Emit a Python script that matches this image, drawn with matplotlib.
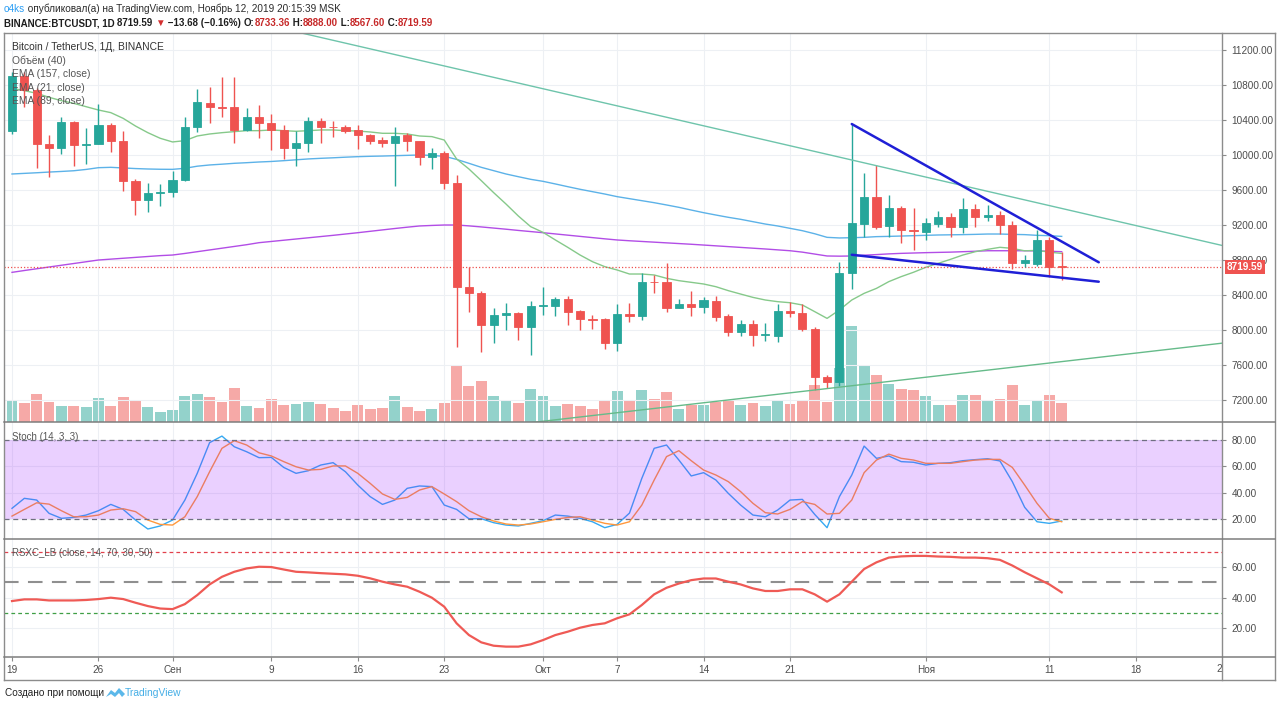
import numpy as np
import pandas as pd
import matplotlib
matplotlib.use("Agg")
import matplotlib.pyplot as plt
import matplotlib.dates as mdates
import matplotlib.transforms as mtransforms
from matplotlib.lines import Line2D
from matplotlib.patches import Polygon

FONT = ['Liberation Sans', 'DejaVu Sans']
plt.rcParams['font.family'] = FONT

# ---------------- data ----------------
start_date = "2019-08-19"
opens = [10274, 10903, 10740, 10122, 10077, 10374, 10114, 10130, 10345, 10160,
         9707, 9486, 9562, 9578, 9714, 10324, 10595, 10545, 10545, 10286,
         10438, 10369, 10286, 10077, 10141, 10392, 10324, 10318, 10286, 10229,
         10171, 10141, 10225, 10156, 9973, 10019, 9684, 8488, 8427, 8057,
         8171, 8190, 8038, 8278, 8278, 8354, 8221, 8122, 8122, 7848,
         8183, 8160, 8553, 8553, 8255, 8293, 8259, 8335, 8160, 7981,
         8069, 7940, 7935, 8221, 8191, 8011, 7459, 7410, 8648, 9211,
         9517, 9189, 9398, 9143, 9124, 9211, 9288, 9174, 9379, 9295,
         9318, 9200, 8769, 8754, 9029, 8733.36]
highs = [10950, 10950, 10770, 10229, 10431, 10392, 10312, 10579, 10360, 10278,
         9720, 9684, 9668, 9817, 10431, 10751, 10781, 10888, 10895, 10533,
         10571, 10469, 10345, 10278, 10431, 10420, 10392, 10340, 10343, 10240,
         10202, 10320, 10250, 10165, 10077, 10040, 9771, 8724, 8450, 8255,
         8305, 8210, 8330, 8495, 8380, 8390, 8230, 8170, 8140, 8297,
         8312, 8655, 8631, 8762, 8354, 8446, 8380, 8390, 8183, 8120,
         8110, 8080, 8297, 8324, 8300, 8040, 7490, 8781, 10354, 9791,
         9886, 9543, 9420, 9398, 9276, 9364, 9341, 9505, 9440, 9430,
         9360, 9250, 8857, 9143, 9060, 8888.00]
lows = [10240, 10552, 9850, 9752, 10011, 9874, 9897, 10122, 10038, 9593,
        9314, 9352, 9417, 9517, 9700, 10267, 10362, 10438, 10141, 10278,
        10191, 10057, 9951, 9874, 10038, 10141, 10210, 10250, 10065, 10126,
        10095, 9646, 10046, 9886, 9836, 9608, 7802, 8210, 7752, 7855,
        8000, 7886, 7714, 8171, 8160, 8057, 8000, 8010, 7779, 7766,
        8088, 8120, 8419, 8210, 8250, 8160, 8200, 8100, 7930, 7935,
        7817, 7880, 7867, 8150, 7990, 7314, 7333, 7360, 8465, 9067,
        9150, 9059, 8998, 8914, 9029, 9181, 9059, 9110, 9174, 9250,
        9097, 8693, 8720, 8730, 8610, 8567.60]
closes = [10903, 10740, 10122, 10077, 10374, 10114, 10130, 10345, 10160, 9707,
          9486, 9562, 9578, 9714, 10324, 10602, 10545, 10540, 10286, 10438,
          10369, 10286, 10077, 10141, 10392, 10324, 10318, 10278, 10229, 10164,
          10141, 10217, 10156, 9973, 10019, 9676, 8488, 8427, 8057, 8171,
          8199, 8038, 8278, 8285, 8354, 8210, 8122, 8118, 7848, 8183,
          8160, 8553, 8550, 8255, 8293, 8259, 8343, 8153, 7981, 8069,
          7940, 7950, 8217, 8191, 8008, 7459, 7410, 8648, 9219, 9517,
          9181, 9398, 9143, 9136, 9219, 9288, 9174, 9379, 9295, 9318,
          9204, 8769, 8800, 9029, 8717, 8719.59]
volumes_k = [27.7, 23.5, 34.9, 25.2, 20.2, 20.2, 18.9, 29.8, 20.2, 31.1,
             26.5, 18.9, 12.6, 14.7, 32.8, 34.9, 31.9, 25.2, 42.8, 20.2,
             17.2, 28.6, 21.4, 23.1, 25.2, 22.3, 17.2, 13.9, 21.4, 16.8,
             17.2, 32.8, 18.5, 14.3, 16.4, 23.5, 70.1, 45.4, 51.2, 32.8,
             26.0, 23.9, 42.0, 32.8, 20.2, 23.1, 20.2, 16.8, 26.0, 39.1,
             26.9, 40.7, 29.4, 37.8, 16.0, 21.0, 21.8, 25.2, 26.0, 21.8,
             24.4, 20.2, 26.0, 23.1, 26.0, 47.0, 25.2, 67.6, 121.0, 70.6,
             59.6, 47.9, 42.0, 40.7, 32.8, 21.8, 21.0, 34.4, 34.4, 28.1,
             29.4, 47.0, 21.8, 26.0, 33.6, 23.9]
ema21 = [10762, 10735, 10705, 10659, 10621, 10590, 10552, 10514, 10484, 10419,
         10331, 10255, 10191, 10149, 10164, 10217, 10240, 10255, 10267, 10278,
         10278, 10286, 10278, 10271, 10278, 10286, 10286, 10278, 10274, 10263,
         10248, 10248, 10240, 10217, 10210, 10171, 9955, 9840, 9707, 9570,
         9440, 9303, 9181, 9116, 9029, 8945, 8857, 8781, 8724, 8686,
         8640, 8640, 8629, 8591, 8564, 8545, 8526, 8495, 8450, 8411,
         8373, 8343, 8324, 8312, 8286, 8210, 8133, 8229, 8343, 8419,
         8476, 8553, 8610, 8660, 8717, 8762, 8808, 8857, 8895, 8922,
         8945, 8933, 8905, 8910, 8890, 8875]
ema89 = [9783, 9790, 9797, 9805, 9812, 9820, 9835, 9855, 9859, 9852,
         9845, 9840, 9837, 9836, 9848, 9872, 9886, 9895, 9905, 9912,
         9920, 9926, 9935, 9945, 9955, 9962, 9968, 9975, 9981, 9985,
         9988, 9992, 9996, 10000, 9995, 9985, 9950, 9905, 9859, 9821,
         9783, 9752, 9722, 9699, 9669, 9638, 9608, 9581, 9554, 9524,
         9501, 9478, 9455, 9429, 9402, 9371, 9341, 9314, 9288, 9265,
         9238, 9211, 9189, 9162, 9135, 9100, 9059, 9052, 9055, 9059,
         9067, 9070, 9074, 9078, 9082, 9086, 9088, 9090, 9093, 9097,
         9097, 9093, 9090, 9082, 9078, 9070]
ema157 = [8659, 8680, 8700, 8720, 8740, 8760, 8780, 8800, 8810, 8820,
          8830, 8840, 8850, 8857, 8875, 8895, 8915, 8935, 8955, 8975,
          8998, 9012, 9026, 9040, 9054, 9068, 9082, 9097, 9112, 9128,
          9144, 9160, 9175, 9189, 9195, 9200, 9200, 9190, 9178, 9165,
          9152, 9138, 9125, 9112, 9098, 9084, 9070, 9056, 9042, 9029,
          9020, 9012, 9004, 8996, 8988, 8980, 8971, 8962, 8953, 8944,
          8935, 8926, 8916, 8906, 8890, 8868, 8846, 8844, 8846, 8855,
          8862, 8870, 8876, 8880, 8884, 8887, 8890, 8895, 8900, 8906,
          8906, 8906, 8906, 8904, 8900, 8895]
stoch_k = [28.1, 35.7, 34.4, 24.3, 20.5, 21.2, 23.0, 26.3, 31.1, 27.3,
           19.2, 12.4, 14.7, 19.2, 34.4, 54.7, 78.0, 83.0, 74.9, 71.1,
           66.6, 66.8, 59.2, 54.7, 56.7, 61.0, 62.8, 55.9, 45.8, 37.0,
           31.1, 34.4, 43.3, 45.1, 44.6, 30.6, 27.3, 20.2, 20.2, 17.2,
           15.4, 14.7, 16.7, 18.7, 23.0, 22.2, 20.5, 17.9, 13.4, 15.9,
           24.5, 50.9, 73.7, 76.2, 64.8, 52.7, 55.2, 49.6, 39.5, 30.6,
           23.0, 21.7, 26.8, 34.4, 34.9, 23.5, 13.4, 37.0, 53.4, 75.4,
           66.1, 67.9, 63.6, 63.1, 61.0, 62.3, 62.8, 64.3, 65.1, 65.8,
           64.1, 48.4, 28.9, 17.9, 16.7, 18.5]
stoch_d = [22.2, 27.3, 32.3, 31.3, 26.3, 21.7, 21.7, 23.0, 26.8, 27.8,
           25.6, 19.2, 15.9, 15.4, 21.7, 37.0, 55.9, 73.7, 79.5, 76.2,
           70.3, 67.9, 63.6, 59.7, 57.2, 57.7, 60.3, 60.3, 54.7, 47.1,
           39.0, 34.9, 36.4, 42.0, 44.6, 39.0, 33.2, 26.3, 21.7, 18.5,
           16.2, 15.4, 16.2, 17.9, 19.7, 21.2, 21.7, 19.2, 16.7, 15.4,
           17.9, 30.6, 49.6, 67.4, 71.9, 64.3, 57.2, 53.4, 48.4, 40.8,
           31.9, 24.8, 23.8, 27.3, 33.2, 31.1, 23.8, 24.3, 34.4, 55.2,
           64.8, 69.3, 66.1, 64.8, 62.3, 62.3, 62.3, 63.6, 64.8, 65.3,
           65.3, 59.2, 45.8, 31.9, 20.5, 17.9]
rsx = [37.7, 38.8, 38.8, 38.1, 38.1, 38.1, 38.4, 39.0, 39.9, 39.0,
       36.6, 34.4, 32.8, 32.4, 35.7, 41.6, 48.6, 53.6, 56.9, 59.1,
       60.2, 60.0, 58.4, 56.9, 56.5, 56.0, 55.6, 55.2, 54.3, 52.6,
       50.4, 48.6, 47.1, 43.8, 39.9, 34.0, 23.1, 15.4, 10.6, 8.4,
       7.8, 7.8, 9.3, 12.1, 15.4, 17.6, 20.2, 22.0, 23.1, 26.4,
       29.0, 35.1, 42.1, 46.4, 49.2, 51.4, 52.5, 52.5, 50.4, 48.6,
       46.0, 44.3, 44.3, 45.4, 45.4, 42.1, 37.3, 42.1, 50.4, 58.7,
       63.1, 66.2, 67.0, 67.3, 67.3, 66.9, 66.7, 66.2, 66.2, 65.8,
       64.7, 61.0, 56.6, 52.6, 48.6, 43.4]

# drawn trend lines: anchor dates and prices
trend_desc_dates = ["2019-09-08", "2019-11-25"]
trend_desc_prices = [11506, 8966]
trend_asc_dates = ["2019-09-28", "2019-11-25"]
trend_asc_prices = [6909, 7850]
wedge_top_dates = ["2019-10-26", "2019-11-15"]
wedge_top_prices = [10354, 8774]
wedge_bot_dates = ["2019-10-26", "2019-11-15"]
wedge_bot_prices = [8860, 8552]

price_ticks = [7200, 7600, 8000, 8400, 8800, 9200, 9600, 10000, 10400, 10800, 11200]
tick_dates = ["2019-08-19", "2019-08-26", "2019-09-01", "2019-09-09", "2019-09-16",
              "2019-09-23", "2019-10-01", "2019-10-07", "2019-10-14", "2019-10-21",
              "2019-11-01", "2019-11-11", "2019-11-18"]
tick_labels = ["19", "26", "Сен", "9", "16", "23", "Окт", "7", "14", "21", "Ноя", "11", "18"]
edge_date, edge_label = "2019-11-25", "2"

# ---------------- layout ----------------
W, H = 1280, 708
fig = plt.figure(figsize=(W / 100, H / 100), dpi=100)
fig.patch.set_facecolor("white")

def P(xp, yp):
    return (xp / W, 1 - yp / H)

L_PX, R_PX = 4, 1222
ax = fig.add_axes([L_PX / W, 1 - 422 / H, (R_PX - L_PX) / W, (422 - 33) / H])
ax_st = fig.add_axes([L_PX / W, 1 - 539 / H, (R_PX - L_PX) / W, (539 - 422) / H], sharex=ax)
ax_rs = fig.add_axes([L_PX / W, 1 - 657 / H, (R_PX - L_PX) / W, (657 - 539) / H], sharex=ax)

TEAL, RED = "#26a69a", "#ef5350"
GRID = "#edf0f4"
LABEL = "#4d4d4d"

o = np.array(opens); h = np.array(highs); l = np.array(lows); c = np.array(closes)
dates = pd.date_range(start_date, periods=len(opens), freq="D")
xd = mdates.date2num(dates)
x0 = mdates.date2num(pd.Timestamp(start_date))
up = c >= o
cols = np.where(up, TEAL, RED)
vcols = np.where(up, "#93d2cb", "#f6a9a7")

# volume axes (below price)
vax = ax.twinx()
vax.bar(xd, volumes_k, width=0.88, color=vcols, linewidth=0, zorder=1)
vax.set_ylim(0, max(volumes_k) / (96 / 389))
vax.set_yticks([])
for s in vax.spines.values():
    s.set_visible(False)
vax.patch.set_visible(True)
vax.patch.set_facecolor("white")
ax.set_zorder(vax.get_zorder() + 1)
ax.patch.set_visible(False)

# price panel
ax.plot(xd, ema157, color="#b24de6", lw=1.0, zorder=2)
ax.plot(xd, ema89, color="#5cb2e8", lw=1.0, zorder=2)
ax.plot(xd, ema21, color="#86c98a", lw=1.0, zorder=2)
ax.axhline(c[-1], color=RED, ls=(0, (1, 1.6)), lw=0.9, zorder=2)
ax.vlines(xd, l, h, colors=cols, lw=1.0, zorder=3)
ax.bar(xd, np.abs(c - o), bottom=np.minimum(o, c), width=0.66, color=cols,
       edgecolor=cols, linewidth=0.6, zorder=4)

def dn(ds):
    return mdates.date2num(pd.to_datetime(ds))

ax.plot(dn(trend_desc_dates), trend_desc_prices, color="#6ec4ab", lw=1.0, zorder=5)
ax.plot(dn(trend_asc_dates), trend_asc_prices, color="#66bb8a", lw=1.0, zorder=5)
ax.plot(dn(wedge_top_dates), wedge_top_prices, color="#1f1fd6", lw=1.8, zorder=6,
        solid_capstyle="round")
ax.plot(dn(wedge_bot_dates), wedge_bot_prices, color="#1f1fd6", lw=1.8, zorder=6,
        solid_capstyle="round")

ax.set_xlim(x0 - 0.648, x0 + 97.98)
ax.set_ylim(6949, 11394)
ax.yaxis.tick_right()
ax.set_yticks(price_ticks)
ax.set_yticklabels([f"{v:.2f}" for v in price_ticks])

tick_pos = dn(tick_dates)
for a in (ax, ax_st, ax_rs):
    a.set_xticks(tick_pos)
    a.grid(True, color=GRID, lw=0.8)
    a.set_axisbelow(True)
    for s in a.spines.values():
        s.set_visible(False)
    a.tick_params(axis="y", which="both", right=True, left=False, labelright=True,
                  labelleft=False, length=3, width=0.8, color="#8a8a8a",
                  labelsize=7.2, labelcolor=LABEL, pad=4)
for a in (ax, ax_st):
    a.tick_params(axis="x", length=0, labelbottom=False)
ax_rs.set_xticklabels(tick_labels)
ax_rs.tick_params(axis="x", length=3, width=0.8, color="#8a8a8a", labelsize=7.2,
                  labelcolor=LABEL, pad=3)

# current price tag (drawn over the partly hidden 8800 label, as in the reference)
trans = mtransforms.blended_transform_factory(ax.transAxes, ax.transData)
ax.text((1227 - L_PX) / (R_PX - L_PX), c[-1], f"{c[-1]:.2f}", transform=trans,
        ha="left", va="center", color="white", fontsize=7.2, fontweight="bold",
        bbox=dict(boxstyle="square,pad=0.22", fc=RED, ec="none"), clip_on=False, zorder=20)

# stoch panel
ax_st.plot(xd, stoch_k, color="#36a9f2", lw=1.0, zorder=2)
ax_st.plot(xd, stoch_d, color="#ff983c", lw=1.0, zorder=2)
ax_st.axhspan(20, 80, color="#9915ff", alpha=0.2, lw=0, zorder=3)
for lev in (80, 20):
    ax_st.axhline(lev, color="#6f6f80", ls=(0, (4, 3)), lw=0.9, zorder=4)
ax_st.set_ylim(4.8, 93.7)
ax_st.set_yticks([20, 40, 60, 80])
ax_st.set_yticklabels(["20.00", "40.00", "60.00", "80.00"])

# RSX panel
ax_rs.plot(xd, rsx, color="#ef5a55", lw=1.6, zorder=3)
ax_rs.axhline(70, color="#e2404c", ls=(0, (3, 2.5)), lw=0.9, zorder=2)
ax_rs.axhline(50, color="#8f8f8f", ls=(0, (7, 4.5)), lw=1.5, zorder=2)
ax_rs.axhline(30, color="#3f9f45", ls=(0, (3, 2.5)), lw=0.9, zorder=2)
ax_rs.set_ylim(1.0, 78.4)
ax_rs.set_yticks([20, 40, 60])
ax_rs.set_yticklabels(["20.00", "40.00", "60.00"])
ax_rs.set_xlim(x0 - 0.648, x0 + 97.98)
edge_tr = mtransforms.blended_transform_factory(ax_rs.transData, fig.transFigure)
ax_rs.text(dn(edge_date), P(0, 669)[1], edge_label, transform=edge_tr, ha="right",
           va="center", fontsize=7.2, color=LABEL, clip_on=False)

# frame lines
def fline(x1, y1, x2, y2, color="#8c8c8c", lw=1.0):
    (a1, b1), (a2, b2) = P(x1, y1), P(x2, y2)
    fig.add_artist(Line2D([a1, a2], [b1, b2], transform=fig.transFigure, color=color, lw=lw))

fline(4, 33, 1275, 33)
fline(4, 680, 1275, 680)
fline(4, 33, 4, 680)
fline(1275, 33, 1275, 680)
fline(1222, 33, 1222, 680)
for yy in (422, 539, 657):
    fline(4, yy, 1275, yy, color="#7d7d7d", lw=1.1)

# texts
renderer = fig.canvas.get_renderer()

def seq(pieces, xp, yp, size, weight="normal"):
    xcur = xp
    for s, col in pieces:
        t = fig.text(*P(xcur, yp), s, color=col, fontsize=size, fontweight=weight,
                     ha="left", va="center")
        xcur += t.get_window_extent(renderer).width

seq([("o4ks", "#2a9df4"),
     (" опубликовал(а) на TradingView.com, Ноябрь 12, 2019 20:15:39 MSK", "#2b2b2b")],
    4, 9, 7.2)
DARK, VAL = "#1e1e1e", "#c62828"
seq([("BINANCE:BTCUSDT, 1D ", DARK), ("8719.59 ", DARK), ("▼", "#d32f2f"),
     (" −13.68 (−0.16%) ", DARK), ("O:", DARK), ("8733.36", VAL), (" H:", DARK),
     ("8888.00", VAL), (" L:", DARK), ("8567.60", VAL), (" C:", DARK), ("8719.59", VAL)],
    4, 23, 7.0, "bold")

fig.text(*P(12, 47), "Bitcoin / TetherUS, 1Д, BINANCE", fontsize=7.4, color="#333333", va="center")
for yy, s in ((61, "Объём (40)"), (74, "EMA (157, close)"), (88, "EMA (21, close)"),
              (101, "EMA (89, close)")):
    fig.text(*P(12, yy), s, fontsize=7.4, color="#555555", va="center")
fig.text(*P(12, 437), "Stoch (14, 3, 3)", fontsize=7, color="#555555", va="center")
fig.text(*P(12, 553), "RSXC_LB (close, 14, 70, 30, 50)", fontsize=7, color="#555555", va="center")

# footer
fig.text(*P(5, 693), "Создано при помощи", fontsize=7.2, color="#222222", va="center")
logo_px = [(106, 697), (111, 690), (115, 693), (119, 688), (125, 694), (122, 697),
           (119, 693), (115, 697), (111, 694)]
fig.add_artist(Polygon([P(a, b) for a, b in logo_px], closed=True, transform=fig.transFigure,
                       fc="#5bb8ea", ec="none"))
fig.text(*P(125, 693), "TradingView", fontsize=7.4, color="#45aee6", va="center")

fig.savefig("out.png", dpi=100, facecolor="white")
